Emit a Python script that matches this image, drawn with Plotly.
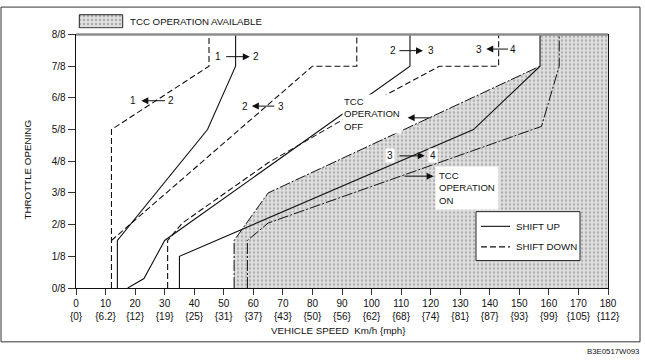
import plotly.graph_objects as go

# ---------------- data (km/h, throttle eighths) ----------------
x_ticks = [0, 10, 20, 30, 40, 50, 60, 70, 80, 90, 100, 110, 120, 130, 140, 150, 160, 170, 180]
mph_labels = ["0", "6.2", "12", "19", "25", "31", "37", "43", "50", "56", "62", "68",
              "74", "81", "87", "93", "99", "105", "112"]
y_ticks = [0, 1, 2, 3, 4, 5, 6, 7, 8]
y_labels = ["0/8", "1/8", "2/8", "3/8", "4/8", "5/8", "6/8", "7/8", "8/8"]

up12_x = [14, 14, 44.5, 54, 54]
up12_y = [0, 1.5, 5, 7, 8]
down12_x = [12, 12, 45, 45]
down12_y = [0, 5, 7, 8]

up23_x = [17.5, 23, 30, 113, 113]
up23_y = [0, 0.3, 1.5, 7, 8]
down23_x = [12, 80, 95, 95]
down23_y = [1.5, 7, 7, 8]

up34_x = [35, 35, 134.5, 157, 157]
up34_y = [0, 1, 5, 7, 8]
down34_x = [31, 31, 36, 65, 104, 123, 143, 143]
down34_y = [0, 1.5, 2.05, 3.95, 6.05, 7, 7, 8]

tcc_off_x = [53.5, 53.5, 65, 157]
tcc_off_y = [0, 1.5, 3, 7]
tcc_on_x = [58, 58, 65, 157.5, 163.5, 163.5]
tcc_on_y = [0, 1.5, 2.05, 5.1, 7, 8]

X_MAX = 180
Y_MAX = 8

# ---------------- layout geometry ----------------
W, H = 645, 363
L, R, T, B = 76, 37, 5, 75
PW, PH = W - L - R, H - T - B
def pxx(px):
    return (px - L) / PW
def pxy(py):
    return (H - B - py) / PH

FONT = "Liberation Sans, Arial, Helvetica, sans-serif"
DASH = "6px,3px"
DASHDOT = "11px,2px,2px,2px"
PATTERN = dict(shape=".", bgcolor="#e0e0e0", fgcolor="#7a7a7a", size=4, solidity=0.3)

fig = go.Figure()

# shaded TCC region
shade_x = tcc_off_x + [tcc_off_x[-1], X_MAX, X_MAX]
shade_y = tcc_off_y + [Y_MAX, Y_MAX, 0]
fig.add_trace(go.Scatter(x=shade_x, y=shade_y, mode="lines", fill="toself",
                         fillcolor="#e0e0e0", fillpattern=PATTERN,
                         line=dict(width=0), hoverinfo="skip", showlegend=False))

# TCC boundary lines
for xs, ys in [(tcc_off_x, tcc_off_y), (tcc_on_x, tcc_on_y)]:
    fig.add_trace(go.Scatter(x=xs, y=ys, mode="lines",
                             line=dict(color="#111", width=1, dash=DASHDOT),
                             showlegend=False, hoverinfo="skip"))

# shift lines
for xs, ys in [(up12_x, up12_y), (up23_x, up23_y), (up34_x, up34_y)]:
    fig.add_trace(go.Scatter(x=xs, y=ys, mode="lines",
                             line=dict(color="#111", width=1.1),
                             showlegend=False, hoverinfo="skip"))
for xs, ys in [(down12_x, down12_y), (down23_x, down23_y), (down34_x, down34_y)]:
    fig.add_trace(go.Scatter(x=xs, y=ys, mode="lines",
                             line=dict(color="#111", width=1.1, dash=DASH),
                             showlegend=False, hoverinfo="skip"))

# legend swatch for "TCC OPERATION AVAILABLE" (small helper axes)
fig.add_trace(go.Scatter(x=[0, 1, 1, 0, 0], y=[0, 0, 1, 1, 0], mode="lines",
                         fill="toself", fillcolor="#e0e0e0", fillpattern=PATTERN,
                         line=dict(color="#222", width=1),
                         xaxis="x2", yaxis="y2", showlegend=False, hoverinfo="skip"))

shapes = [
    # top frame line of plot (gray)
    dict(type="line", xref="x domain", yref="y domain", x0=0, x1=1, y0=1, y1=1,
         line=dict(color="#8c8c8c", width=2.5), layer="above"),
    # outer figure frame
    dict(type="rect", xref="paper", yref="paper", x0=pxx(1), x1=pxx(640), y0=pxy(343), y1=pxy(1),
         line=dict(color="#333", width=1)),
    # shift legend box
    dict(type="rect", xref="paper", yref="paper", x0=pxx(476), x1=pxx(580), y0=pxy(260), y1=pxy(210),
         line=dict(color="#222", width=1), fillcolor="white", layer="above"),
    dict(type="line", xref="paper", yref="paper", x0=pxx(481), x1=pxx(510), y0=pxy(225), y1=pxy(225),
         line=dict(color="#111", width=1.1), layer="above"),
    dict(type="line", xref="paper", yref="paper", x0=pxx(481), x1=pxx(510), y0=pxy(246), y1=pxy(246),
         line=dict(color="#111", width=1.1, dash=DASH), layer="above"),
]

ann = []
def text(x, y, s, xanchor="center", bg="white", size=10, align="center", xref="x", yref="y", **kw):
    ann.append(dict(x=x, y=y, xref=xref, yref=yref, text=s, showarrow=False, xanchor=xanchor,
                    yanchor="middle", align=align, bgcolor=bg, borderpad=1,
                    font=dict(family=FONT, size=size, color="#111"), **kw))
def arrow(x_tail, x_head, y):
    ann.append(dict(x=x_head, y=y, ax=x_tail, ay=y, xref="x", yref="y", axref="x", ayref="y",
                    text="", showarrow=True, arrowhead=2, arrowsize=1.4, arrowwidth=1,
                    arrowcolor="#111", standoff=0, startstandoff=0))

# 1 -> 2
text(48.0, 7.30, "1"); arrow(50.3, 58.8, 7.30); text(61.0, 7.30, "2")
# 1 <- 2
text(19.3, 5.91, "1"); arrow(30.6, 22.1, 5.91); text(32.2, 5.91, "2")
# 2 <- 3
text(57.3, 5.74, "2"); arrow(67.6, 59.5, 5.74); text(69.4, 5.74, "3")
# 2 -> 3
text(107.4, 7.49, "2"); arrow(108.9, 117.4, 7.49); text(120.1, 7.49, "3")
# 3 <- 4
text(136.2, 7.54, "3"); arrow(146.7, 138.8, 7.54); text(148.0, 7.54, "4")
# 3 -> 4
text(106.3, 4.17, "3"); arrow(108.9, 118.0, 4.17); text(120.8, 4.17, "4")
# TCC labels
text(90.1, 5.50, "TCC<br>OPERATION<br>OFF", xanchor="left", align="left", size=9.6)
arrow(120.7, 112.2, 5.37)
ann.append(dict(x=121.3, y=3.16, xref="x", yref="y", text="TCC<br>OPERATION<br>ON", showarrow=False,
                xanchor="left", yanchor="middle", align="left", bgcolor="white", borderpad=3,
                font=dict(family=FONT, size=9.6, color="#111")))
arrow(110.6, 121.0, 3.53)

# legend texts
text(pxx(128), pxy(15.5), "TCC OPERATION AVAILABLE", xanchor="left", bg=None, size=9.7,
     xref="paper", yref="paper")
text(pxx(514), pxy(225), "SHIFT UP", xanchor="left", bg=None, size=9.7, xref="paper", yref="paper")
text(pxx(514), pxy(246), "SHIFT DOWN", xanchor="left", bg=None, size=9.7, xref="paper", yref="paper")
# axis titles
text(pxx(338), pxy(331.5), "VEHICLE SPEED  Km/h {mph}", bg=None, size=9.8, xref="paper", yref="paper")
ann.append(dict(x=pxx(27.5), y=pxy(167.5), xref="paper", yref="paper", text="THROTTLE OPENING",
                showarrow=False, textangle=-90, xanchor="center", yanchor="middle",
                font=dict(family=FONT, size=9.8, color="#111")))
# figure code
ann.append(dict(x=pxx(641), y=pxy(352.5), xref="paper", yref="paper", text="B3E0517W093",
                showarrow=False, xanchor="right", yanchor="middle",
                font=dict(family=FONT, size=7.8, color="#111")))

fig.update_layout(
    width=W, height=H,
    margin=dict(l=L, r=R, t=T, b=B),
    paper_bgcolor="white", plot_bgcolor="white",
    showlegend=False,
    font=dict(family=FONT, size=10, color="#111"),
    xaxis=dict(range=[0, X_MAX], domain=[0, 1], tickmode="array", tickvals=x_ticks,
               ticktext=[f"{v}<br>{{{m}}}" for v, m in zip(x_ticks, mph_labels)],
               ticks="outside", ticklen=6, tickwidth=1, tickcolor="#333",
               showline=True, linecolor="#111", linewidth=1.3, showgrid=False, zeroline=False,
               tickfont=dict(size=10, family=FONT, color="#111")),
    yaxis=dict(range=[0, Y_MAX], domain=[0, pxy(29)], tickmode="array", tickvals=y_ticks,
               ticktext=y_labels, ticks="outside", ticklen=7, tickwidth=1, tickcolor="#333",
               showline=True, linecolor="#111", linewidth=1.3, mirror=True,
               showgrid=False, zeroline=False,
               tickfont=dict(size=10, family=FONT, color="#111")),
    xaxis2=dict(domain=[pxx(78), pxx(124)], range=[-0.03, 1.03], visible=False, anchor="y2"),
    yaxis2=dict(domain=[pxy(23), pxy(8)], range=[-0.06, 1.06], visible=False, anchor="x2"),
    shapes=shapes,
    annotations=ann,
)

fig.write_html("out.html", config={"displayModeBar": False, "staticPlot": True},
               post_script="document.body.style.margin='0';document.body.style.overflow='hidden';")
